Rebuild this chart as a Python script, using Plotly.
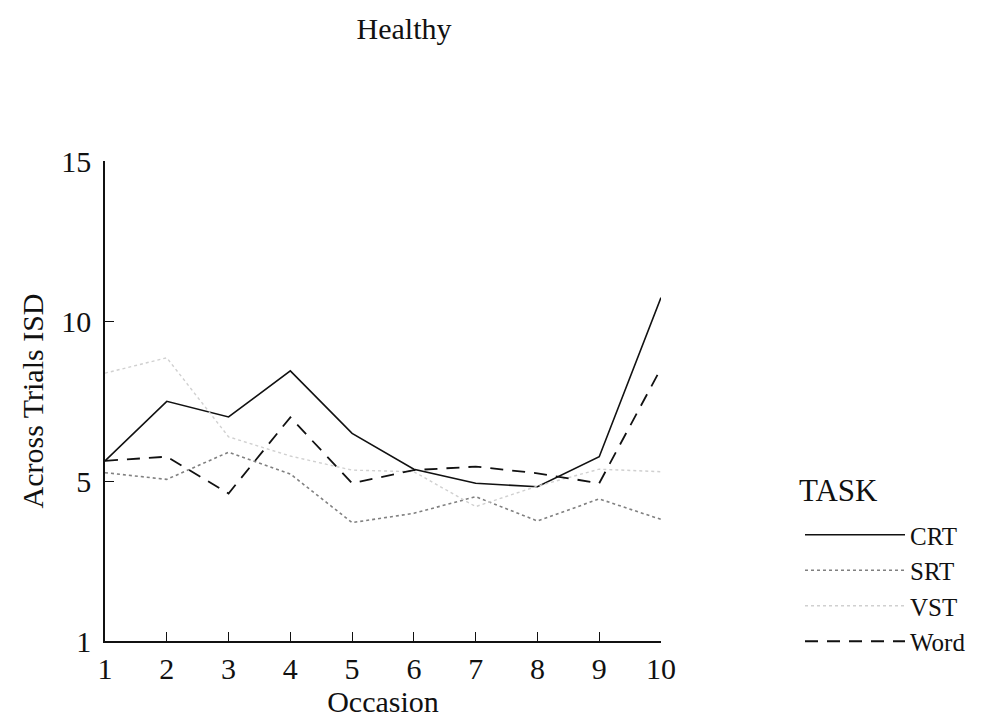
import plotly.graph_objects as go

occasion = [1, 2, 3, 4, 5, 6, 7, 8, 9, 10]
crt = [5.63, 7.49, 7.00, 8.44, 6.49, 5.37, 4.93, 4.82, 5.76, 10.73]
srt = [5.26, 5.05, 5.90, 5.22, 3.70, 3.99, 4.51, 3.75, 4.44, 3.80]
vst = [8.37, 8.85, 6.38, 5.78, 5.34, 5.29, 4.20, 4.84, 5.37, 5.29]
word = [5.63, 5.76, 4.61, 6.99, 4.93, 5.34, 5.45, 5.24, 4.93, 8.52]

y_tickvals = [0, 5, 10, 15]
y_ticktext = ["1", "5", "10", "15"]

FONT = "Liberation Serif, Times New Roman, serif"

fig = go.Figure()
fig.add_trace(go.Scatter(x=occasion, y=crt, mode="lines", name="CRT",
                         line=dict(color="#111111", width=1.6)))
fig.add_trace(go.Scatter(x=occasion, y=srt, mode="lines", name="SRT",
                         line=dict(color="#808080", width=1.6, dash="dot")))
fig.add_trace(go.Scatter(x=occasion, y=vst, mode="lines", name="VST",
                         line=dict(color="#d0d0d0", width=1.4, dash="dot")))
fig.add_trace(go.Scatter(x=occasion, y=word, mode="lines", name="Word",
                         line=dict(color="#111111", width=1.8, dash="13px,9px")))

W, H = 982, 711
fig.update_layout(
    width=W, height=H,
    paper_bgcolor="white", plot_bgcolor="white",
    margin=dict(l=97, r=329, t=153, b=78, autoexpand=False),
    font=dict(family=FONT, size=29, color="#111111"),
    title=dict(text="Healthy", x=396 / W, xanchor="center",
               y=1 - 10 / H, yanchor="top",
               font=dict(family=FONT, size=30, color="#111111")),
    showlegend=True,
    legend=dict(
        font=dict(family=FONT, size=25),
        x=(800 - 105) / 556, xanchor="left",
        y=(641 - 512) / 480, yanchor="top",
        itemwidth=100, bgcolor="rgba(0,0,0,0)",
    ),
    annotations=[dict(text="TASK", xref="paper", yref="paper",
                      x=(797 - 105) / 556, y=(641 - 490) / 480,
                      xanchor="left", yanchor="middle", showarrow=False,
                      font=dict(family=FONT, size=31, color="#111111"))],
)

fig.update_xaxes(
    range=[1, 10], tickvals=occasion, ticktext=[str(v) for v in occasion],
    showline=True, linecolor="#111111", linewidth=1.5,
    ticks="inside", ticklen=9, tickwidth=1.2, tickcolor="#111111",
    showgrid=False, zeroline=False, automargin=False,
    tickfont=dict(family=FONT, size=30),
    title=dict(text="Occasion", font=dict(family=FONT, size=30), standoff=0),
)
fig.update_yaxes(
    range=[0, 15], tickvals=y_tickvals, ticktext=y_ticktext,
    showline=True, linecolor="#111111", linewidth=1.5,
    ticks="inside", ticklen=9, tickwidth=1.2, tickcolor="#111111",
    showgrid=False, zeroline=False, automargin=False,
    tickfont=dict(family=FONT, size=30),
    ticklabelstandoff=6,
    title=dict(text="Across Trials ISD", font=dict(family=FONT, size=30), standoff=9),
)

fig.write_html("out.html")
